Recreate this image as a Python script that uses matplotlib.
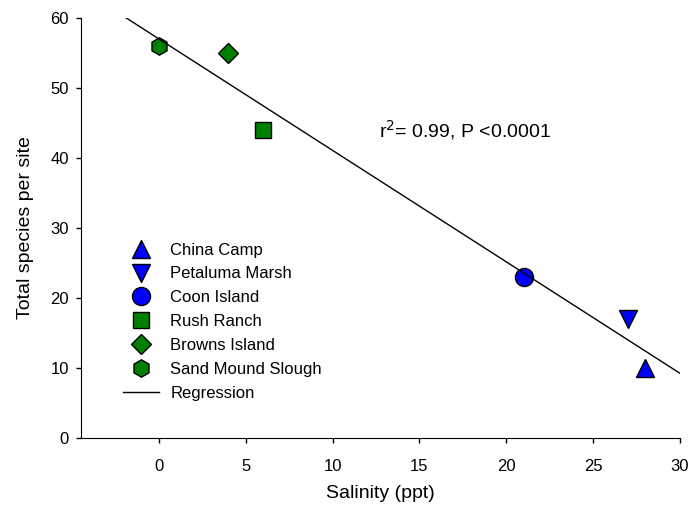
import matplotlib.pyplot as plt
import numpy as np

plt.rcParams['font.family'] = ['Liberation Sans', 'DejaVu Sans']

# site data
sites = ['China Camp', 'Petaluma Marsh', 'Coon Island', 'Rush Ranch',
         'Browns Island', 'Sand Mound Slough']
salinity = [28, 27, 21, 6, 4, 0]
species = [10, 17, 23, 44, 55, 56]
markers = ['^', 'v', 'o', 's', 'D', 'h']
colors = ['#0000ff', '#0000ff', '#0000ff', '#008000', '#008000', '#008000']
sizes = [13, 13, 13, 11, 10.5, 12.5]

# regression drawn over this salinity range
line_x = [-2, 30]

fig = plt.figure(figsize=(6.9, 5.08), dpi=100)
ax = fig.add_axes([0.117, 0.1384, 0.8685, 0.8262])

for name, x, y, m, c, s in zip(sites, salinity, species, markers, colors, sizes):
    ax.plot(x, y, linestyle='none', marker=m, markersize=s, markerfacecolor=c,
            markeredgecolor='black', markeredgewidth=1, label=name, clip_on=False)

slope, intercept = np.polyfit(salinity, species, 1)
lx = np.array(line_x)
ax.plot(lx, slope * lx + intercept, color='black', linewidth=1.0, label='Regression')

ax.text(12.7, 44, r'r$^2$= 0.99, P <0.0001', fontsize=14, va='center')

ax.set_xlim(-4.5, 30)
ax.set_ylim(0, 60)
ax.set_xticks([0, 5, 10, 15, 20, 25, 30])
ax.set_yticks([0, 10, 20, 30, 40, 50, 60])
ax.spines['top'].set_visible(False)
ax.spines['right'].set_visible(False)
ax.tick_params(direction='out', length=3.5, width=1, labelsize=12)
ax.tick_params(axis='x', pad=12)
ax.tick_params(axis='y', pad=5)
ax.set_xlabel('Salinity (ppt)', fontsize=14, labelpad=8)
ax.set_ylabel('Total species per site', fontsize=14, labelpad=12)

ax.legend(loc='upper left', bbox_to_anchor=(0.07, 0.465), frameon=False,
          fontsize=12, handlelength=2.2, labelspacing=0.53, handletextpad=0.65,
          borderpad=0, borderaxespad=0)

plt.savefig('out.png', dpi=100)
